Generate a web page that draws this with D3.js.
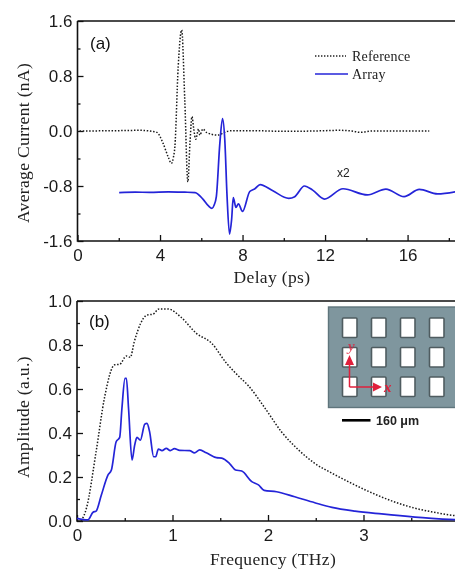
<!DOCTYPE html>
<html><head><meta charset="utf-8">
<script src="https://cdnjs.cloudflare.com/ajax/libs/d3/7.8.5/d3.min.js"></script>
<style>html,body{margin:0;padding:0;background:#fff;overflow:hidden}svg{display:block;filter:blur(0.4px)}</style>
</head><body><svg id="c" width="455" height="570"></svg>
<script>
// Panel (a): [delay ps, current nA]
const refA=[[0.1,0],[2,0.005],[3,0.01],[3.6,-0.005],[3.85,-0.02],[4.15,-0.18],[4.4,-0.38],[4.55,-0.47],[4.65,-0.38],[4.72,-0.23],[4.88,0.93],[5.05,1.47],[5.2,0.45],[5.35,-0.74],[5.45,-0.18],[5.55,0.21],[5.63,0.04],[5.73,-0.12],[5.87,0.03],[5.93,-0.06],[6.08,0.03],[6.25,-0.02],[6.8,-0.06],[7.2,-0.01],[7.5,0.005],[8.5,0.005],[10,-0.005],[11.5,0],[12.7,0.01],[13.3,0],[13.7,-0.02],[14.3,0],[17.05,0]];
const arrA=[[2.02,-0.897],[2.8,-0.89],[3.5,-0.892],[4.4,-0.885],[5.2,-0.89],[5.7,-0.895],[6.08,-0.99],[6.35,-1.09],[6.52,-1.125],[6.62,-1.08],[6.73,-0.955],[6.9,-0.18],[7.03,0.18],[7.14,-0.13],[7.25,-0.955],[7.37,-1.5],[7.47,-1.29],[7.55,-0.97],[7.68,-1.11],[7.8,-1.06],[8.0,-1.17],[8.35,-0.88],[8.6,-0.84],[8.85,-0.78],[9.47,-0.87],[10.24,-0.98],[10.53,-0.955],[11.0,-0.8],[11.4,-0.86],[11.97,-0.99],[12.87,-0.84],[14.05,-0.93],[14.95,-0.845],[15.83,-0.955],[16.57,-0.85],[17.45,-0.915],[18.4,-0.88]];
// Panel (b): [frequency THz, amplitude]
const refB=[[0.045,0],[0.1,0.06],[0.2,0.315],[0.29,0.565],[0.394,0.71],[0.447,0.712],[0.517,0.75],[0.558,0.744],[0.6,0.815],[0.733,0.936],[0.796,0.94],[0.859,0.964],[0.953,0.964],[1.09,0.926],[1.25,0.853],[1.41,0.808],[1.56,0.72],[1.7,0.655],[1.79,0.617],[1.97,0.512],[2.14,0.406],[2.32,0.323],[2.49,0.262],[2.67,0.217],[2.84,0.179],[3.02,0.141],[3.19,0.109],[3.37,0.08],[3.54,0.058],[3.71,0.042],[3.96,0.024]];
const arrB=[[0,0.012],[0.115,0.005],[0.168,0.04],[0.2,0.045],[0.255,0.118],[0.325,0.21],[0.36,0.232],[0.41,0.36],[0.447,0.38],[0.47,0.51],[0.503,0.648],[0.517,0.648],[0.54,0.51],[0.576,0.277],[0.604,0.345],[0.628,0.38],[0.663,0.367],[0.71,0.44],[0.733,0.444],[0.76,0.406],[0.803,0.292],[0.824,0.292],[0.852,0.327],[0.89,0.32],[0.935,0.33],[0.977,0.32],[1.02,0.329],[1.075,0.321],[1.18,0.32],[1.23,0.31],[1.285,0.323],[1.354,0.31],[1.46,0.288],[1.515,0.286],[1.6,0.26],[1.66,0.232],[1.725,0.227],[1.83,0.179],[1.9,0.164],[1.96,0.139],[2.09,0.133],[2.28,0.11],[2.49,0.083],[2.67,0.062],[2.91,0.045],[3.19,0.032],[3.54,0.018],[3.96,0.006]];
const ticksAx=[0,4,8,12,16], minorAx=[2,6,10,14,18];
const ticksAy=[-1.6,-0.8,0,0.8,1.6], minorAy=[-1.2,-0.4,0.4,1.2];
const ticksBx=[0,1,2,3,4], minorBx=[0.5,1.5,2.5,3.5];
const ticksBy=[0,0.2,0.4,0.6,0.8,1], minorBy=[0.1,0.3,0.5,0.7,0.9];
const legendLabels=["Reference","Array"];
const inCols=[0,1,2,3], inRows=[0,1,2];

const BLUE="#2424d8", INK="#111", SANS="'Liberation Sans',Arial,sans-serif", SERIF="'Liberation Serif',serif";
const svg=d3.select("#c");
const xA=d3.scaleLinear([0,18.5],[77.5,77.5+18.5*20.63]), yA=d3.scaleLinear([-1.6,1.6],[241,21]);
const xB=d3.scaleLinear([0,4],[77,459]), yB=d3.scaleLinear([0,1],[521,301]);

function panel(x,y,tx,mx,ty,my,fx,fy,xt,yt,yc,xtY,tag,tagY){
  const [y0,y1]=y.range(), xr=x.range();
  const g=svg.append("g");
  const style=a=>{a.select(".domain").remove();a.selectAll("line").attr("stroke",INK).attr("stroke-width",1.3);
    a.selectAll("text").attr("font-family",SANS).attr("font-size",17).attr("fill","#1a1a1a");};
  g.append("g").attr("transform",`translate(0,${y0})`).call(d3.axisBottom(x).tickValues(mx).tickSize(-3).tickFormat("")).call(style);
  g.append("g").attr("transform",`translate(0,${y0})`).call(d3.axisBottom(x).tickValues(tx).tickSize(-6).tickPadding(8).tickFormat(fx)).call(style)
    .selectAll("text").attr("dy","0.71em");
  g.append("g").attr("transform",`translate(${xr[0]},0)`).call(d3.axisLeft(y).tickValues(my).tickSize(-3).tickFormat("")).call(style);
  g.append("g").attr("transform",`translate(${xr[0]},0)`).call(d3.axisLeft(y).tickValues(ty).tickSize(-6).tickPadding(5).tickFormat(fy)).call(style);
  g.append("path").attr("d",`M${xr[0]},${y1}V${y0}H460M${xr[0]},${y1}H460`).attr("fill","none").attr("stroke",INK).attr("stroke-width",1.6);
  g.append("text").attr("x",xt.x).attr("y",xtY).attr("text-anchor","middle").attr("font-family",SERIF).attr("font-size",17.5).attr("letter-spacing",0.35).attr("fill","#222").text(xt.s);
  g.append("text").attr("transform",`translate(29,${yc}) rotate(-90)`).attr("text-anchor","middle").attr("font-family",SERIF).attr("font-size",17.5).attr("letter-spacing",0.35).attr("fill","#222").text(yt);
  g.append("text").attr("x",tag[0]).attr("y",tagY).attr("font-family",SANS).attr("font-size",17).attr("fill","#111").text(tag[1]);
}
const f1=v=>d3.format(".1f")(v).replace("\u2212","-"), f0=d3.format("d");
panel(xA,yA,ticksAx,minorAx,ticksAy,minorAy,f0,f1,{s:"Delay (ps)",x:272},"Average Current (nA)",143,283,[90,"(a)"],49);
panel(xB,yB,ticksBx,minorBx,ticksBy,minorBy,f0,f1,{s:"Frequency (THz)",x:273},"Amplitude (a.u.)",417,565,[89,"(b)"],327);

const line=(x,y)=>d3.line().x(d=>x(d[0])).y(d=>y(d[1])).curve(d3.curveMonotoneX);
const dotted=(d,x,y)=>svg.append("path").attr("d",line(x,y)(d)).attr("fill","none").attr("stroke","#1a1a1a").attr("stroke-width",1.5).attr("stroke-dasharray","1.5 1.7");
const solid=(d,x,y)=>svg.append("path").attr("d",line(x,y)(d)).attr("fill","none").attr("stroke",BLUE).attr("stroke-width",1.7);
dotted(refA,xA,yA); solid(arrA,xA,yA);
dotted(refB,xB,yB); solid(arrB,xB,yB);

// legend
svg.append("line").attr("x1",315).attr("x2",346).attr("y1",56).attr("y2",56).attr("stroke","#222").attr("stroke-width",1.3).attr("stroke-dasharray","1.4 1.6");
svg.append("line").attr("x1",315).attr("x2",348).attr("y1",74).attr("y2",74).attr("stroke",BLUE).attr("stroke-width",1.6);
legendLabels.forEach((s,i)=>svg.append("text").attr("x",352).attr("y",61+i*18).attr("font-family",SERIF).attr("font-size",14).attr("letter-spacing",0.2).attr("fill","#222").text(s));
svg.append("text").attr("x",337).attr("y",177).attr("font-family",SANS).attr("font-size",12).attr("fill","#222").text("x2");

// inset
const inset=svg.append("g");
inset.append("rect").attr("x",328.5).attr("y",307).attr("width",130).attr("height",100.5).attr("fill","#7f969e").attr("stroke","#5f757c").attr("stroke-width",1.4);
const cx=d3.scalePoint(inCols,[342.5,429.5]), cy=d3.scalePoint(inRows,[318,377]);
inCols.forEach(c=>inRows.forEach(r=>inset.append("rect").attr("x",cx(c)).attr("y",cy(r)).attr("width",14.5).attr("height",19.5).attr("rx",1).attr("fill","#fff").attr("stroke","#4f5c60").attr("stroke-width",1.6)));
const RED="#e0203c";
inset.append("path").attr("d","M349.5,387H376M349.5,387V362").attr("fill","none").attr("stroke",RED).attr("stroke-width",1.5);
inset.append("path").attr("d","M382,387l-9,-4.5v9zM349.5,355l-4.5,10h9z").attr("fill",RED);
inset.append("text").attr("x",384).attr("y",392).attr("font-family",SERIF).attr("font-style","italic").attr("font-weight","bold").attr("font-size",15).attr("fill",RED).text("x");
inset.append("text").attr("x",348).attr("y",351).attr("font-family",SERIF).attr("font-style","italic").attr("font-weight","bold").attr("font-size",15).attr("fill",RED).attr("opacity",0.75).text("y");
svg.append("rect").attr("x",342).attr("y",419).attr("width",28.5).attr("height",2.6).attr("fill","#000");
svg.append("text").attr("x",376).attr("y",425).attr("font-family",SANS).attr("font-weight","bold").attr("font-size",12.5).attr("fill","#222").text("160 \u03BCm");
</script></body></html>
